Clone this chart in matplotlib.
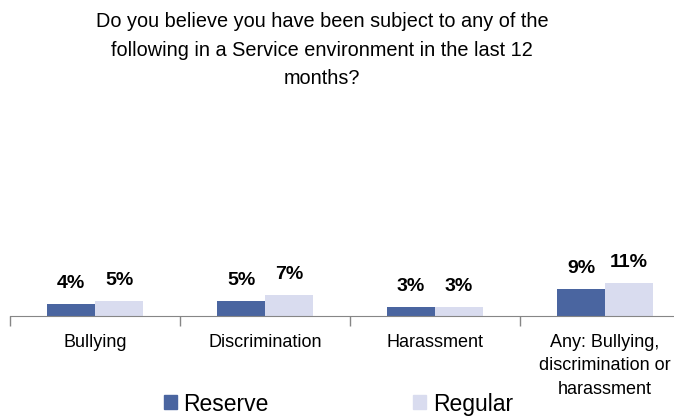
import numpy as np
import matplotlib
matplotlib.use("Agg")
import matplotlib.pyplot as plt
from matplotlib.patches import Patch

plt.rcParams['font.family'] = ['Liberation Sans', 'DejaVu Sans']

categories = ["Bullying", "Discrimination", "Harassment",
              "Any: Bullying,\ndiscrimination or\nharassment"]
reserve = [4, 5, 3, 9]
regular = [5, 7, 3, 11]
title = ("Do you believe you have been subject to any of the\n"
         "following in a Service environment in the last 12\nmonths?")

C_RES = "#4a65a0"
C_REG = "#d9dcef"
W = 48 / 170

fig = plt.figure(figsize=(6.74, 4.19), dpi=100)
# plot area runs a little past the right edge of the figure
ax = fig.add_axes([10 / 674, 1 - 316 / 419, 680 / 674, 186 / 419])

x = np.arange(len(categories))
b1 = ax.bar(x - W / 2, reserve, W, color=C_RES, label="Reserve")
b2 = ax.bar(x + W / 2, regular, W, color=C_REG, label="Regular")

for bars, vals in ((b1, reserve), (b2, regular)):
    for b, v in zip(bars, vals):
        ax.annotate(f"{v}%", (b.get_x() + b.get_width() / 2, v),
                    xytext=(0, 15), textcoords="offset points",
                    ha="center", va="center", fontsize=14, fontweight="bold")

ax.set_xlim(-0.5, len(categories) - 0.5)
ax.set_ylim(0, 62)
ax.set_xticks(x)
ax.set_xticklabels(categories, fontsize=13, linespacing=1.48)
ax.set_xticks(np.arange(len(categories) + 1) - 0.5, minor=True)
ax.tick_params(axis="x", which="major", length=0, pad=13)
ax.tick_params(axis="x", which="minor", length=7, color="#868686", width=1)
ax.set_yticks([])
for s in ("top", "right", "left"):
    ax.spines[s].set_visible(False)
ax.spines["bottom"].set_color("#868686")

fig.text(322 / 674, 1 - 12 / 419, title, ha="center", va="top",
         fontsize=14.3, linespacing=1.65)

handles = [Patch(color=C_RES), Patch(color=C_REG)]
fig.legend(handles, ["Reserve", "Regular"], loc="center left",
           bbox_to_anchor=(164 / 674, 1 - 404 / 419), ncol=2, frameon=False,
           fontsize=16.5, handlelength=0.55, handleheight=0.55,
           handletextpad=0.3, columnspacing=6.3, borderpad=0, borderaxespad=0)

fig.savefig("out.png", dpi=100)
